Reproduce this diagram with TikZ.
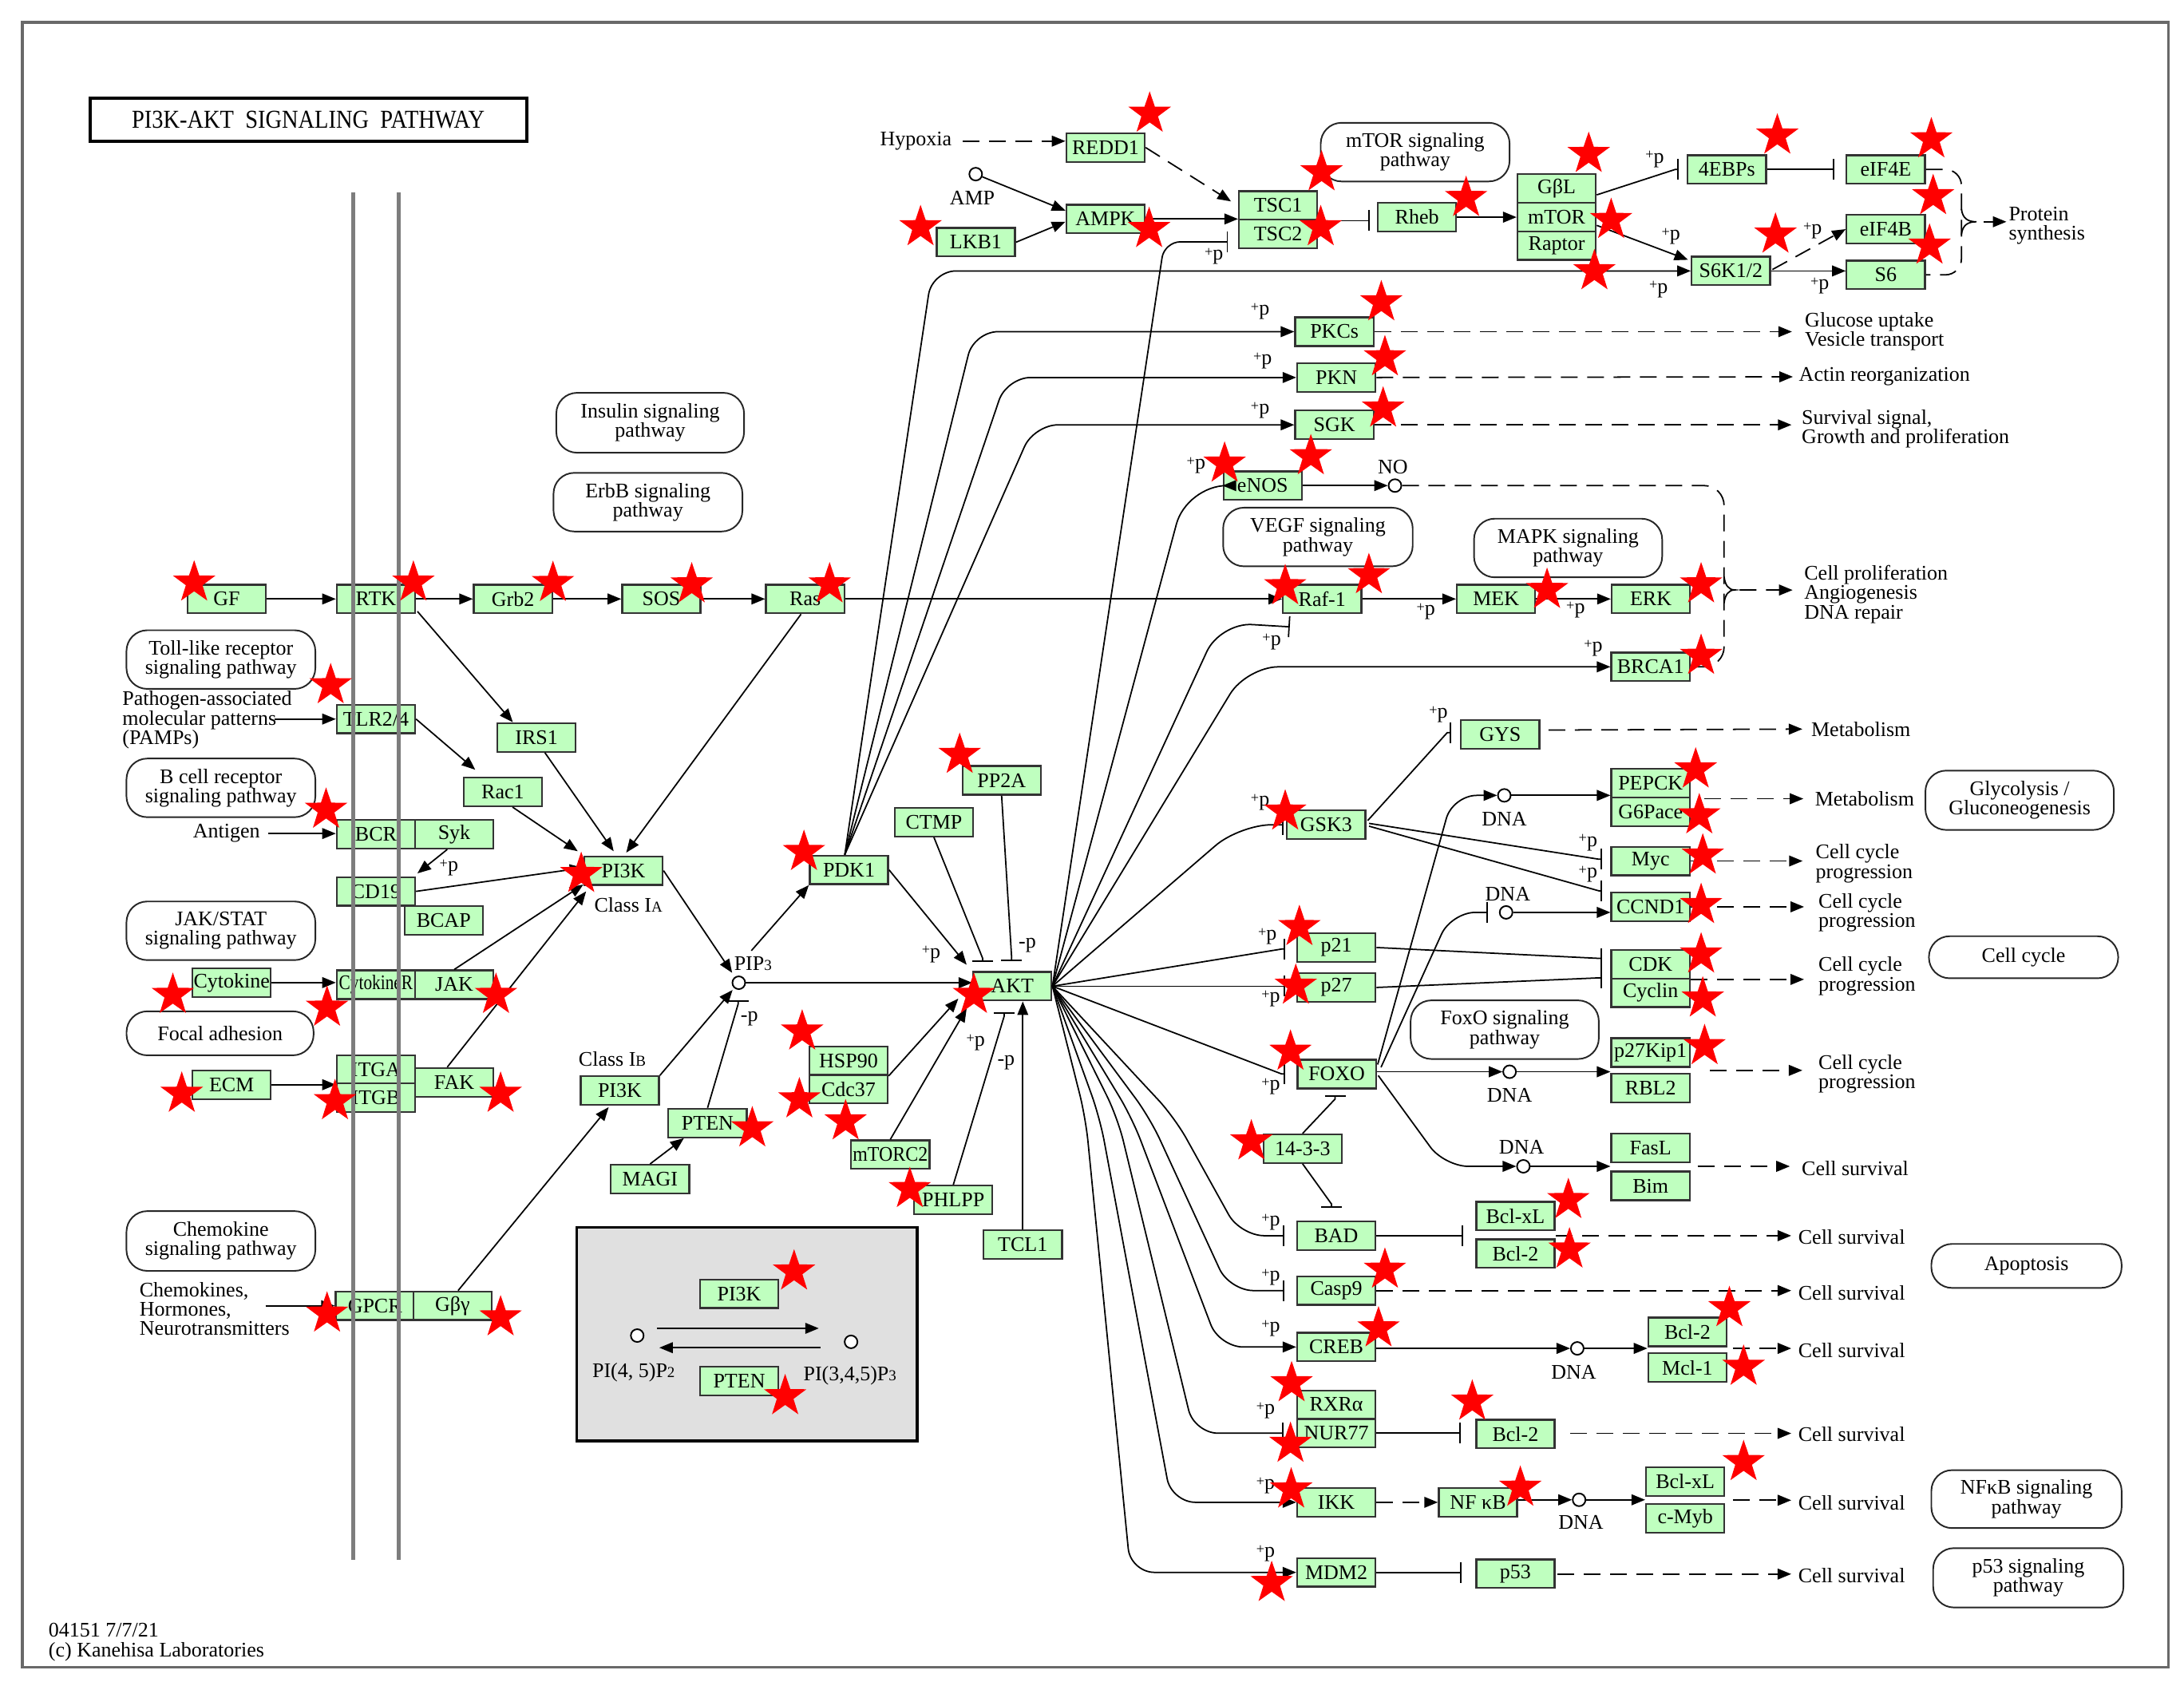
\documentclass[tikz,border=0pt]{standalone}
\usepackage{fontspec}
\usepackage{graphicx}
\setmainfont{Liberation Serif}
\newfontfamily\titlefont[FakeStretch=0.88]{Liberation Serif}
\usetikzlibrary{shapes.geometric,arrows.meta,calc}
\definecolor{kgreen}{RGB}{191,255,191}
\definecolor{kframe}{RGB}{105,105,105}
\definecolor{kgray}{RGB}{224,224,224}
\definecolor{kmem}{RGB}{125,125,125}
\newcommand{\kgsize}{\fontsize{7.4}{6.9}\selectfont}
\newcommand{\kgpp}{{\fontsize{5.2}{5}\selectfont\raisebox{0.5ex}{+}}p}
\newcommand{\kgsm}[1]{{\fontsize{5.4}{5}\selectfont #1}}
\begin{document}
\begin{tikzpicture}[x=0.1745mm,y=-0.1745mm,
 gene/.style={draw=black!80, fill=kgreen, line width=0.65pt, minimum width=9.82mm, minimum height=3.58mm, inner sep=0pt, font=\kgsize},
 pw/.style 2 args={draw=black!85, rounded corners=2.6mm, line width=0.55pt, inner sep=0pt, align=center, font=\kgsize, minimum width=#1*0.1745mm, minimum height=#2*0.1745mm},
 lbl/.style={inner sep=0pt, font=\kgsize, align=left},
 conn/.style={line width=0.5pt, draw=black},
 act/.style={-{Triangle[length=1.7mm,width=1.35mm]}},
 inh/.style={-{Bar[width=2.6mm]}},
 dsh/.style={dash pattern=on 2.1mm off 1.2mm},
 mol/.style={circle, draw=black, fill=white, line width=0.55pt, minimum size=1.6mm, inner sep=0pt},
 pp/.style={inner sep=0pt, font=\kgsize},
 rstar/.style={star, star points=5, star point ratio=2.55, fill=red, draw=none, minimum size=5.6mm, inner sep=0pt}]
\useasboundingbox (0,0) rectangle (1568,1210.3);
\fill[white] (0,0) rectangle (1568,1210.3);
\draw[kframe, line width=0.9pt] (16,16) rectangle (1557,1197);

% title
\node[draw, line width=1.2pt, minimum width=313.5*0.1745mm, minimum height=30.8*0.1745mm, inner sep=0pt, font={\titlefont\fontsize{9.2}{9.2}\selectfont}] (title) at (221.3,85.9) {PI3K-AKT\ \ SIGNALING\ \ PATHWAY};
\node[lbl, anchor=north west] (foot) at (34.5,1165) {04151 7/7/21\\(c) Kanehisa Laboratories};

% pathway boxes
\node[pw={134.8}{43}] (insulin) at (466.8,303.5) {Insulin signaling\\pathway};
\node[pw={135.6}{42.1}] (erbb) at (465.2,360.5) {ErbB signaling\\pathway};
\node[pw={135.6}{42.1}] (mtorpw) at (1016,109.2) {mTOR signaling\\pathway};
\node[pw={136.1}{42.1}] (vegf) at (946.2,385.5) {VEGF signaling\\pathway};
\node[pw={135.1}{42.1}] (mapk) at (1125.8,393.4) {MAPK signaling\\pathway};
\node[pw={135.1}{42.1}] (foxopw) at (1080.3,739.2) {FoxO signaling\\pathway};
\node[pw={135.6}{42.1}] (toll) at (158.6,473.5) {Toll-like receptor\\signaling pathway};
\node[pw={135.6}{42.1}] (bcell) at (158.6,565.6) {B cell receptor\\signaling pathway};
\node[pw={135.6}{42.1}] (jakstat) at (158.6,668.2) {JAK/STAT\\signaling pathway};
\node[pw={134.3}{31.6}] (focal) at (158,741.8) {Focal adhesion};
\node[pw={135.6}{42.9}] (chemo) at (158.6,890.9) {Chemokine\\signaling pathway};
\node[pw={135.3}{42.6}] (glyco) at (1450,574.5) {Glycolysis /\\Gluconeogenesis};
\node[pw={135.9}{30.2}] (cellcyc) at (1452.8,687.2) {Cell cycle};
\node[pw={136.6}{31.6}] (apop) at (1454.9,908.8) {Apoptosis};
\node[pw={136.6}{41.6}] (nfkbpw) at (1454.9,1076.2) {NFκB signaling\\pathway};
\node[pw={136.6}{42.6}] (p53pw) at (1456.2,1132.7) {p53 signaling\\pathway};

% gray box
\node[draw=black, fill=kgray, line width=1pt, minimum width=244.3*0.1745mm, minimum height=153.1*0.1745mm, inner sep=0pt] (grayb) at (536.2,957.8) {};

% genes top
\node[gene] (redd1) at (793.7,105.9) {REDD1};
\node[gene] (ampk) at (793.7,157.2) {AMPK};
\node[gene] (lkb1) at (700.6,173.9) {LKB1};
\node[gene] (tsc1) at (917.6,147.5) {TSC1};
\node[gene] (tsc2) at (917.6,168) {TSC2};
\node[gene] (rheb) at (1017.3,155.9) {Rheb};
\node[gene] (gbl) at (1117.6,135.3) {GβL};
\node[gene] (mtor) at (1117.6,155.8) {mTOR};
\node[gene] (raptor) at (1117.6,176.3) {Raptor};
\node[gene] (ebp) at (1239.8,121.7) {4EBPs};
\node[gene] (eif4e) at (1353.9,121.7) {eIF4E};
\node[gene] (eif4b) at (1353.9,164.5) {eIF4B};
\node[gene] (s6) at (1353.9,197.3) {S6};
\node[gene] (s6k) at (1242.7,194.5) {S6K1/2};
\node[gene] (pkcs) at (958,238.1) {PKCs};
\node[gene] (pkn) at (959.4,271) {PKN};
\node[gene] (sgk) at (958,305) {SGK};
\node[gene] (enos) at (906.5,348.6) {eNOS};
\node[gene] (raf1) at (949.2,430) {Raf-1};
\node[gene] (mek) at (1074.1,430) {MEK};
\node[gene] (erk) at (1185.2,430) {ERK};
\node[gene] (brca1) at (1185,478.7) {BRCA1};
\node[gene] (gys) at (1077,527.1) {GYS};
\node[gene] (pepck) at (1185,562.2) {PEPCK};
\node[gene] (g6pace) at (1185,582.7) {G6Pace};
\node[gene] (myc) at (1185,618.1) {Myc};
\node[gene] (ccnd1) at (1185,651) {CCND1};
\node[gene] (cdk) at (1185,692.2) {CDK};
\node[gene] (cyclin) at (1185,712.7) {Cyclin};
\node[gene] (p27kip1) at (1185,755.6) {p27Kip1};
\node[gene] (rbl2) at (1185,781.2) {RBL2};
\node[gene] (gsk3) at (952.1,592.1) {GSK3};
\node[gene] (p21) at (959.4,680.2) {p21};
\node[gene] (p27) at (959.4,708.9) {p27};
\node[gene] (foxo) at (959.7,771.1) {FOXO};
\node[gene] (f1433) at (935.2,824.6) {14-3-3};
\node[gene] (fasl) at (1185,824) {FasL};
\node[gene] (bim) at (1185,851.3) {Bim};
\node[gene] (bad) at (959.4,887.1) {BAD};
\node[gene] (bclxla) at (1088,873) {Bcl-xL};
\node[gene] (bcl2a) at (1088,900) {Bcl-2};
\node[gene] (casp9) at (959.4,926.5) {Casp9};
\node[gene] (creb) at (959.4,967) {CREB};
\node[gene] (bcl2b) at (1211.5,956.2) {Bcl-2};
\node[gene] (mcl1) at (1211.5,981.8) {Mcl-1};
\node[gene] (rxra) at (959.4,1008.4) {RXRα};
\node[gene] (nur77) at (959.4,1028.9) {NUR77};
\node[gene] (bcl2c) at (1088,1029.5) {Bcl-2};
\node[gene] (ikk) at (959.4,1078.5) {IKK};
\node[gene] (nfkb) at (1061.1,1078.5) {NF κB};
\node[gene] (bclxlb) at (1209.9,1063.7) {Bcl-xL};
\node[gene] (cmyb) at (1209.9,1090) {c-Myb};
\node[gene] (mdm2) at (959.4,1128.8) {MDM2};
\node[gene] (p53) at (1088,1129.8) {p53};
% genes left
\node[gene] (gfn) at (162.7,430) {GF};
\node[gene] (rtk) at (269.9,430) {RTK};
\node[gene] (grb2) at (368.3,430) {Grb2};
\node[gene] (sos) at (474.8,430) {SOS};
\node[gene] (ras) at (578.1,430) {Ras};
\node[gene] (tlr) at (269.9,516.2) {TLR2/4};
\node[gene] (irs1) at (385.2,529.4) {IRS1};
\node[gene] (rac1) at (361,568.5) {Rac1};
\node[gene] (bcr) at (269.9,598.9) {BCR};
\node[gene] (syk) at (326.1,598.9) {Syk};
\node[gene] (cd19) at (269.9,639.9) {CD19};
\node[gene] (bcap) at (318.5,660.7) {BCAP};
\node[gene] (cytok) at (166.3,705.4) {Cytokine};
\node[gene] (cytokr) at (269.9,706.9) {\scalebox{0.82}[1]{CytokineR}};
\node[gene] (jak) at (326.1,706.9) {JAK};
\node[gene] (ecm) at (166.3,778.7) {ECM};
\node[gene] (itga) at (269.9,767.7) {ITGA};
\node[gene] (itgb) at (269.9,788.1) {ITGB};
\node[gene] (fak) at (326.1,777) {FAK};
\node[gene] (gpcr) at (269.2,937.4) {GPCR};
\node[gene] (gbg) at (324.9,937.4) {Gβγ};
% genes middle
\node[gene] (pi3ka) at (447.6,625) {PI3K};
\node[gene] (pdk1) at (609.5,624.5) {PDK1};
\node[gene] (pp2a) at (719.1,560.2) {PP2A};
\node[gene] (ctmp) at (670.5,590.2) {CTMP};
\node[gene] (akt) at (726.8,708) {AKT};
\node[gene] (hsp90) at (609.2,761.5) {HSP90};
\node[gene] (cdc37) at (609.2,781.9) {Cdc37};
\node[gene] (pi3kb) at (445,782.9) {PI3K};
\node[gene] (pten) at (508,806.2) {PTEN};
\node[gene] (magi) at (466.7,846.5) {MAGI};
\node[gene] (mtorc2) at (639.2,828.9) {\scalebox{0.92}[1]{mTORC2}};
\node[gene] (phlpp) at (684.4,861.5) {PHLPP};
\node[gene] (tcl1) at (734.3,893.5) {TCL1};
\node[gene] (ipi3k) at (530.7,928.8) {PI3K};
\node[gene] (ipten) at (530.7,991.5) {PTEN};

% small molecules and labels
\node[lbl] (hyp) at (657.6,101.3) {Hypoxia};
\node[mol] (amp) at (700.5,125) {};
\node[lbl] (ampt) at (698,142) {AMP};
\node[mol] (no) at (1001.5,348.6) {};
\node[lbl] (not) at (1000,335.4) {NO};
\node[lbl, anchor=west] (pamps) at (87.5,516.9) {Pathogen-associated\\molecular patterns\\(PAMPs)};
\node[lbl, anchor=east] (antigen) at (187,598.4) {Antigen};
\node[lbl, anchor=west] (chem) at (99.8,939.6) {Chemokines,\\Hormones,\\Neurotransmitters};
\node[lbl] (classia) at (451.1,649.7) {Class I\kgsm{A}};
\node[lbl] (classib) at (439.6,760.2) {Class I\kgsm{B}};
\node[mol] (pip3) at (530.4,705.5) {};
\node[lbl] (pip3t) at (540.6,691.8) {PIP\kgsm{3}};
\node[mol] (pi45) at (457.5,958.8) {};
\node[mol] (pi345) at (611,963.3) {};
\node[lbl] (pi45t) at (454.9,985.2) {PI(4, 5)P\kgsm{2}};
\node[lbl] (pi345t) at (610.2,987.8) {PI(3,4,5)P\kgsm{3}};
\node[mol] (dna1) at (1080,571) {};
\node[mol] (dna2) at (1081.3,655) {};
\node[mol] (dna3) at (1083.8,769.4) {};
\node[mol] (dna4) at (1093.7,837.3) {};
\node[mol] (dna5) at (1132.4,968) {};
\node[mol] (dna6) at (1133.7,1076.7) {};
\node[lbl] (dna1t) at (1080,587.9) {DNA};
\node[lbl] (dna2t) at (1082.5,641.8) {DNA};
\node[lbl] (dna3t) at (1083.8,786.5) {DNA};
\node[lbl] (dna4t) at (1092.4,823.3) {DNA};
\node[lbl] (dna5t) at (1129.9,985.2) {DNA};
\node[lbl] (dna6t) at (1135,1093) {DNA};
\node[lbl, anchor=west] (prot) at (1441.8,161.8) {Protein\\synthesis};
\node[lbl, anchor=west] (glu) at (1295.5,238.1) {Glucose uptake\\Vesicle transport};
\node[lbl, anchor=west] (actin) at (1291.2,270.5) {Actin reorganization};
\node[lbl, anchor=west] (surv) at (1293.2,308.1) {Survival signal,\\Growth and proliferation};
\node[lbl, anchor=west] (prolif) at (1295,426.6) {Cell proliferation\\Angiogenesis\\DNA repair};
\node[lbl, anchor=west] (meta1) at (1300,523.4) {Metabolism};
\node[lbl, anchor=west] (meta2) at (1302.7,573.4) {Metabolism};
\node[lbl, anchor=west] (cc1) at (1303.2,619.9) {Cell cycle\\progression};
\node[lbl, anchor=west] (cc2) at (1305.2,655.2) {Cell cycle\\progression};
\node[lbl, anchor=west] (cc3) at (1305.2,700.7) {Cell cycle\\progression};
\node[lbl, anchor=west] (cc4) at (1305.2,770.8) {Cell cycle\\progression};
\node[lbl, anchor=west] (cs1) at (1293.2,839) {Cell survival};
\node[lbl, anchor=west] (cs2) at (1290.7,887.8) {Cell survival};
\node[lbl, anchor=west] (cs3) at (1290.7,928) {Cell survival};
\node[lbl, anchor=west] (cs4) at (1290.7,969.4) {Cell survival};
\node[lbl, anchor=west] (cs5) at (1290.7,1029.9) {Cell survival};
\node[lbl, anchor=west] (cs6) at (1290.7,1079) {Cell survival};
\node[lbl, anchor=west] (cs7) at (1290.7,1131.2) {Cell survival};

% +p / -p labels
\foreach \qx/\qy [count=\qi] in {871.5/184.2, 1188/114.4, 1199.6/169.7, 1190.7/207.8, 1306.5/205.2, 1301.4/165.7, 904.7/223.6, 906.5/259, 904.7/294.7, 858.7/334.1, 1023.7/439.2, 1131.2/437.9, 913/461, 1143.9/465.6, 1032.7/512.9, 904.7/576.1, 1140.1/605, 1140.1/627.4, 909.9/672.1, 912.4/716.8, 912.4/780, 912.4/877.3, 912.4/916.8, 912.4/953.6, 908.6/1012.8, 908.6/1066.7, 908.6/1115.4, 322.3/623, 668.5/685.2, 700.5/748.4}
  \node[pp] (plus\qi) at (\qx,\qy) {\kgpp};
\foreach \qx/\qy [count=\qi] in {737.6/678.7, 722.3/762.9, 538/731.3}
  \node[pp] (minus\qi) at (\qx,\qy) {-p};

% ---------- connectors: top
\draw[conn,dsh,act,shorten <=1.3mm] (hyp.east) -- (hyp.east -| redd1.west);
\draw[conn,dsh,act] (redd1.east) -- ($(tsc1.north west)+(-5,8)$);
\draw[conn,act] (amp) -- ($(ampk.west)+(0,-6)$);
\draw[conn,act] (lkb1.east) -- ($(ampk.west)+(0,2)$);
\draw[conn,act] (ampk.east) -- (ampk.east -| tsc1.west);
\draw[conn,inh,rounded corners=2mm] (akt.east) -- (836,173.6) -- (881.7,173.6);
\draw[conn,inh] (tsc1.south east) -- ($(tsc1.south east -| rheb.west)+(-5,0)$);
\draw[conn,act] (rheb.east) -- (rheb.east -| mtor.west);
\draw[conn,inh] ($(mtor.north east)+(0,-5)$) -- ($(ebp.west)+(-8.5,0)$) -- ($(ebp.west)+(-6,0)$);
\draw[conn,act] ($(mtor.east)+(0,6)$) -- ($(s6k.west)+(-2,-8)$);
\coordinate (pdkt) at ($(pdk1.north)+(-3,0)$);
\draw[conn,act,rounded corners=3mm] (pdkt) -- (669.2,194.5) -- (s6k.west);
\draw[conn,inh] (ebp.east) -- ($(eif4e.west)+(-8,0)$);
\draw[conn,act] (s6k.east) -- (s6k.east -| s6.west);
\draw[conn,dsh,act] ($(s6k.east)+(1,-1)$) -- (eif4b.west);
\draw[conn,dsh,rounded corners=2mm] (eif4e.east) -- (1408.2,121.7) -- (1408.2,197.3) -- (s6.east);
\draw[conn] (1408.2,150) .. controls (1409,157) and (1413,159.2) .. (1419,159.2) .. controls (1413,159.2) and (1409,161.4) .. (1408.2,168.4);
\draw[conn,dsh,act] (1424,159.2) -- (1440.5,159.2);
% PDK1 upward
\draw[conn,act,rounded corners=3mm] (pdkt) -- (699.3,238.1) -- (pkcs.west);
\draw[conn,act,rounded corners=3mm] (pdkt) -- (722.8,271) -- (pkn.west);
\draw[conn,act,rounded corners=3mm] (pdkt) -- (742.4,305) -- (sgk.west);
\draw[conn,dsh,act] (pkcs.east) -- ($(glu.west)+(-9,0)$);
\draw[conn,dsh,act] (pkn.east) -- ($(actin.west)+(-4,0)$);
\draw[conn,dsh,act] (sgk.east) -- ($(surv.west |- sgk.east)+(-7,0)$);
% AKT upward
\draw[conn,act,rounded corners=5mm] (akt.east) -- (852,348.6) -- (enos.west);
\draw[conn,act] (enos.east) -- (no);
\draw[conn,dsh,rounded corners=2.5mm] (no) -- (1237.8,348.6) -- (1237.8,478.7) -- (brca1.east);
\draw[conn] (1237.8,414) .. controls (1238.5,420) and (1241,423.5) .. (1245.5,423.5) .. controls (1241,423.5) and (1238.5,427) .. (1237.8,433);
\draw[conn,dsh,act] (1249,423.5) -- ($(prolif.west)+(-8,-3)$);
\draw[conn,act] (ras.east) -- (raf1.west);
\draw[conn,act] (raf1.east) -- (mek.west);
\draw[conn,act] (mek.east) -- (erk.west);
\draw[conn,inh,rounded corners=4mm] (akt.east) -- (876,447) -- (926,450);
\draw[conn,act,rounded corners=4mm] (akt.east) -- (895,478.7) -- (brca1.west);
\draw[conn,inh,rounded corners=4mm] (akt.east) -- (890,592.1) -- ($(gsk3.west)+(-2,0)$);
% GSK3
\draw[conn,inh] ($(gsk3.east)+(1,-3)$) -- (1039,526) -- (1041.6,526);
\draw[conn,inh] ($(gsk3.east)+(2,-1)$) -- (1147.8,616.8) -- (1150.3,616.8);
\draw[conn,inh] ($(gsk3.east)+(2,1)$) -- (1147.8,639.5) -- (1150.3,639.5);
\draw[conn,dsh,act] ($(gys.east)+(6,-3)$) -- ($(meta1.west)+(-6,0)$);
% FOXO
\draw[conn,act,rounded corners=3mm] ($(foxo.north east)+(0.6,4)$) -- (1043,571) -- (dna1);
\draw[conn,act] (dna1) -- (dna1 -| pepck.west);
\draw[conn,dsh,act] (1223.8,573.4) -- ($(meta2.west)+(-8,0)$);
\draw[conn,inh,rounded corners=3mm] ($(foxo.north east)+(3,6)$) -- (1042,655) -- ($(dna2.west)+(-8,0)$);
\draw[conn,act] (dna2) -- (dna2 -| ccnd1.west);
\draw[conn,inh] (akt.east) -- (920.2,681.3) -- (922.7,681.3);
\draw[conn,inh] (akt.east) -- (922.7,708);
\draw[conn,inh] (akt.east) -- (920.2,771) -- (922.7,771);
\draw[conn,inh] (p21.east) -- (1147.8,688) -- (1150.3,688);
\draw[conn,inh] (p27.east) -- (1147.8,702) -- (1150.3,702);
\draw[conn,dsh,act] (myc.east) -- ($(cc1.west |- myc.east)+(-9,0)$);
\draw[conn,dsh,act] (ccnd1.east) -- ($(cc2.west |- ccnd1.east)+(-10,0)$);
\draw[conn,dsh,act] (cdk.south east) -- ($(cc3.west |- cdk.south east)+(-10,0)$);
\draw[conn,act] (foxo.east |- dna3) -- (dna3);
\draw[conn,act] (dna3) -- (dna3 -| p27kip1.west);
\draw[conn,dsh,act] (1227.6,768.4) -- (1294,768.4);
\draw[conn,inh] (f1433.north) -- (958.5,789) -- (958.5,786.5);
\draw[conn,act,rounded corners=3mm] ($(foxo.east)+(1,1)$) -- (1037,837.3) -- (dna4);
\draw[conn,act] (dna4) -- (dna4 -| fasl.west);
\draw[conn,dsh,act] (1218.7,837.3) -- (1285,837.3);
% lower fan
\draw[conn,inh] (f1433.south) -- (955.9,864.3) -- (955.9,866.8);
\draw[conn,inh,rounded corners=3mm] (akt.east) -- (843.4,802.3) -- (890.5,887.1) -- (922,887.1);
\draw[conn,inh] (bad.east) -- (1050.6,887.1);
\draw[conn,dsh,act] (1117,887.1) -- (1286,887.1);
\draw[conn,inh,rounded corners=3mm] (akt.east) -- (825.5,802.3) -- (882.7,926.5) -- (922,926.5);
\draw[conn,dsh,act] (casp9.east) -- (1286,926.5);
\draw[conn,act,rounded corners=3mm] (akt.east) -- (812.7,802.3) -- (875.4,967) -- (creb.west);
\draw[conn,act] (creb.east |- dna5) -- (dna5);
\draw[conn,act] (dna5) -- (dna5 -| bcl2b.west);
\draw[conn,dsh,act] (1244.1,968) -- (1286,968);
\draw[conn,inh,rounded corners=3mm] (akt.east) -- (802.4,802.3) -- (857.4,1028.9) -- (921.4,1028.9);
\draw[conn,inh] (nur77.east) -- (1048.8,1028.9);
\draw[conn,dsh,act] (1127.3,1029) -- (1286,1029);
\draw[conn,act,rounded corners=3mm] (akt.east) -- (789.6,802.3) -- (841.1,1078.5) -- (ikk.west);
\draw[conn,dsh,act] (ikk.east) -- (nfkb.west);
\draw[conn,act] (nfkb.east |- dna6) -- (dna6);
\draw[conn,act] (dna6) -- (dna6 -| bclxlb.west);
\draw[conn,dsh,act] (1244.1,1077) -- (1286,1077);
\draw[conn,act,rounded corners=3mm] (akt.east) -- (779.4,802.3) -- (811.7,1128.8) -- (mdm2.west);
\draw[conn,inh] (mdm2.east) -- (1049.3,1128.8);
\draw[conn,dsh,act] (1118.3,1130) -- (1286,1130);
% middle
\draw[conn,act,shorten >=0.6mm] (pi3ka.east) -- (pip3);
\draw[conn,act,shorten >=0.3mm] (pi3kb.north east) -- (pip3);
\draw[conn,act] ($(pip3)+(9,-23)$) -- (pdk1.south west);
\draw[conn,act] (pip3) -- (pip3 -| akt.west);
\draw[conn,inh] (pten.north) -- (530,720.6) -- (530,718.1);
\draw[conn,act] (magi.north) -- ($(pten.south)+(-17,0)$);
\draw[conn,act] (pdk1.east) -- ($(akt.north west)+(-4,-4.5)$);
\draw[conn,inh] (ctmp.south) -- (705.5,688) -- (705.5,690.5);
\draw[conn,inh] (pp2a.south) -- (726.3,687.5) -- (726.3,690);
\draw[conn,act] (hsp90.south east) -- ($(akt.south west)+(-10,-2)$);
\draw[conn,act] (mtorc2.north) -- ($(akt.south west)+(-4,5)$);
\draw[conn,inh] (phlpp.north) -- (721,729.3) -- (721,726.8);
\draw[conn,act] (tcl1.north) -- (tcl1.north |- akt.south);
\draw[conn,act] ($(gbg.north)+(4,0)$) -- ($(pi3kb.south)+(-8,1)$);
\draw[conn,act] ($(pi45.east)+(9,-5.2)$) -- ($(pi345.west)+(-18,-9.7)$);
\draw[conn,act] ($(pi345.west)+(-17,4.2)$) -- ($(pi45.east)+(10.7,8.7)$);
% left
\draw[conn,act] (gfn.east) -- (rtk.west);
\draw[conn,act] (rtk.east) -- (grb2.west);
\draw[conn,act] (grb2.east) -- (sos.west);
\draw[conn,act] (sos.east) -- (ras.west);
\draw[conn,act] ($(rtk.south east)+(1,-2)$) -- ($(irs1.north)+(-17,0)$);
\draw[conn,act] (tlr.east) -- ($(rac1.north west)+(9,-5)$);
\draw[conn,act] ($(irs1.south)+(6,0)$) -- ($(pi3ka.north)+(-7,-3)$);
\draw[conn,act] ($(rac1.south)+(7,0)$) -- ($(pi3ka.north west)+(-4,-3)$);
\draw[conn,act] ($(ras.south)+(-3,0)$) -- ($(pi3ka.north)+(2,-2)$);
\draw[conn,act] (cd19.east) -- ($(pi3ka.west)+(0,-2)$);
\draw[conn,act] (jak.north) -- ($(pi3ka.west)+(0,10)$);
\draw[conn,act] ($(fak.north)+(-5,0)$) -- ($(pi3ka.south west)+(2,4)$);
\draw[conn,act] ($(syk.south)+(-5,0)$) -- ($(cd19.north east)+(1,-2)$);
\coordinate (pampsend) at (197,516.2);
\draw[conn,act] (pampsend) -- (tlr.west);
\draw[conn,act,shorten <=1mm] (antigen.east) -- (antigen.east -| bcr.west);
\draw[conn,act] (cytok.east) -- (cytok.east -| cytokr.west);
\draw[conn,act] (ecm.east) -- (ecm.east -| itga.west);
\coordinate (chemend) at (190.6,937.4);
\draw[conn,act] (chemend) -- (gpcr.west);

% membranes
\draw[kmem, line width=1.4pt] (253.8,138.1) -- (253.8,1120);
\draw[kmem, line width=1.4pt] (286.5,138.1) -- (286.5,1120);

% stars
\foreach \sx/\sy [count=\si] in {660.9/163.1, 825.4/81.6, 825/164.4, 948.8/123.7, 948.2/163.1, 1052.6/142.1, 1140.6/110.5, 1156.7/157.9, 1144.7/194.7, 1276/97.3, 1386.6/100, 1387.9/140.8, 1385.3/176.3, 1274.7/168.4, 991.7/217, 994.3/256.5, 993/293.3, 879.2/332.8, 941.1/327.5, 139.4/418.2, 296.8/418.2, 397/418.5, 496.6/419.5, 595.6/419.5, 237.4/491.9, 234.1/581.3, 124.1/714.2, 234.8/723.4, 356.1/714.2, 130.5/785.2, 240.5/790.5, 359.4/785.2, 234.8/943, 359.4/945.7, 417.3/627.4, 577.2/611.6, 689/541.9, 699.2/714.2, 575.9/740.5, 573.9/789.2, 607.1/805, 540.1/810, 653.2/853.6, 570.1/912.8, 563.7/1002.3, 922.7/420.8, 982.8/412.9, 1110.7/423.5, 922.7/582.6, 932.9/665.5, 930.3/707.6, 926.5/755, 898.4/819.4, 1221.3/419.5, 1221.3/470.8, 1217.4/552.4, 1220/585.3, 1222.5/614.2, 1221.3/649.7, 1221.3/685.2, 1222.5/716.8, 1223.8/751, 1126/861.5, 1126.8/897, 994.3/911.5, 989.7/953.6, 927.3/993, 926.5/1036.5, 1057/1006.2, 927/1069.3, 1091.5/1068, 913/1136.4, 1241.6/939.1, 1251.8/981.2, 1251.8/1049.6}
  \node[rstar] (star\si) at (\sx,\sy) {};
\end{tikzpicture}
\end{document}
